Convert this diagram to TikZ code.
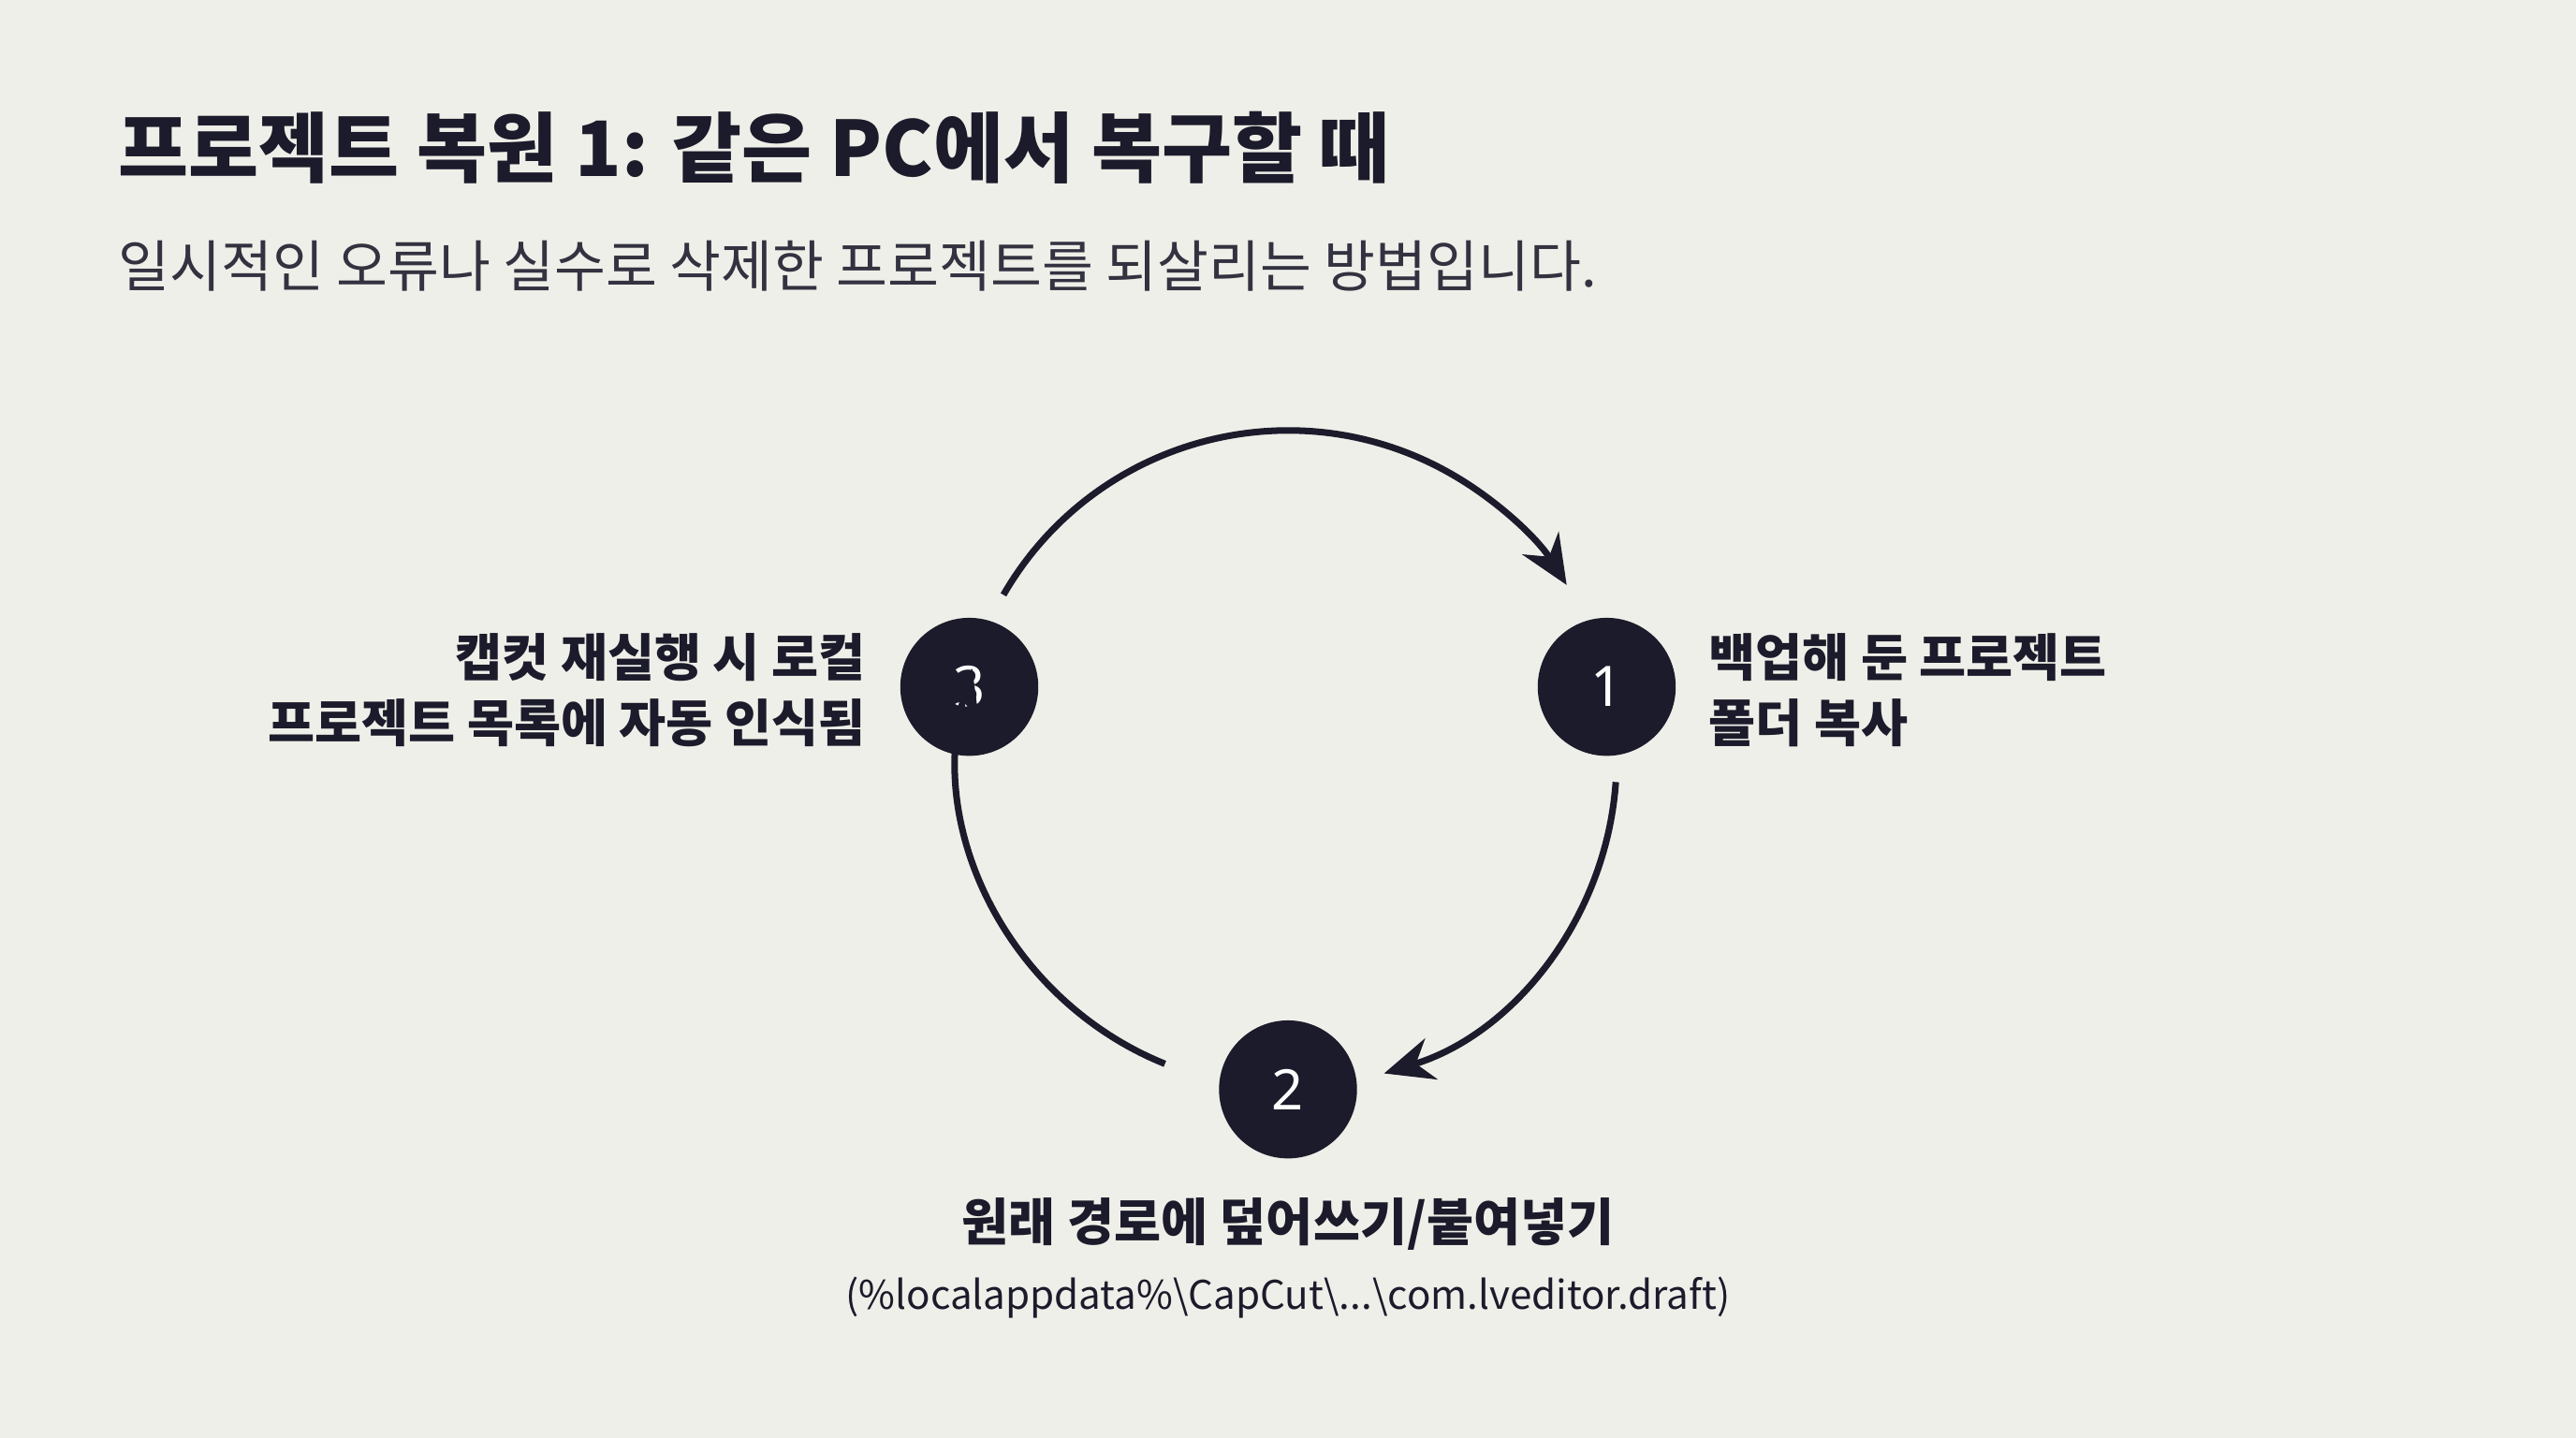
\documentclass[tikz,border=0pt]{standalone}
\usepackage{fontspec}
\setmainfont{Noto Sans CJK KR}
\newfontfamily\numfont{Noto Sans}
\usetikzlibrary{arrows.meta,calc}
\definecolor{bg}{HTML}{EFEFE9}
\definecolor{ink}{HTML}{1B1B2B}
\begin{document}
\begin{tikzpicture}[x=1pt,y=-1pt,
  stepnode/.style={circle,fill=ink,minimum size=84pt,inner sep=0pt,text=white,font=\numfont\fontsize{34}{38}\selectfont\bfseries},
  lbl/.style={font=\fontsize{31}{40}\selectfont\bfseries,text=ink,align=left,inner sep=0pt},
  arc/.style={draw=ink,line width=4pt,-{Stealth[length=30pt,width=26pt]}}]
\fill[bg] (0,0) rectangle (1568,875);
\useasboundingbox (0,0) rectangle (1568,875);
\node[anchor=west,inner sep=0pt,text=ink,font=\fontsize{46.5}{52}\selectfont\bfseries] (title) at (72,90) {프로젝트 복원 1: 같은 PC에서 복구할 때};
\node[anchor=west,inner sep=0pt,text=ink!90,font=\fontsize{34}{40}\selectfont] (sub) at (72,162) {일시적인 오류나 실수로 삭제한 프로젝트를 되살리는 방법입니다.};
\coordinate (c) at (784,462);
\node[stepnode] (n1) at (978,418) {1};
\node[stepnode] (n2) at (784,663) {2};
\node[stepnode] (n3) at (590,418) {3};
\draw[arc] ($(c)+(-150:200)$) arc[start angle=-150,end angle=-32,radius=200];
\draw[arc] ($(c)+(4:200)$) arc[start angle=4,end angle=73,radius=200];
\draw[arc] ($(c)+(112:200)$) arc[start angle=112,end angle=196,radius=200];
\node[lbl,anchor=west] (l1) at (1040,420) {백업해 둔 프로젝트\\폴더 복사};
\node[lbl,anchor=east,align=right] (l3) at (527,420) {캡컷 재실행 시 로컬\\프로젝트 목록에 자동 인식됨};
\node[lbl,align=center] (l2) at (784,745) {원래 경로에 덮어쓰기/붙여넣기};
\node[inner sep=0pt,text=ink,font=\fontsize{24}{30}\selectfont] (p2) at (784,790) {(\%localappdata\%\textbackslash CapCut\textbackslash...\textbackslash com.lveditor.draft)};
\end{tikzpicture}
\end{document}
